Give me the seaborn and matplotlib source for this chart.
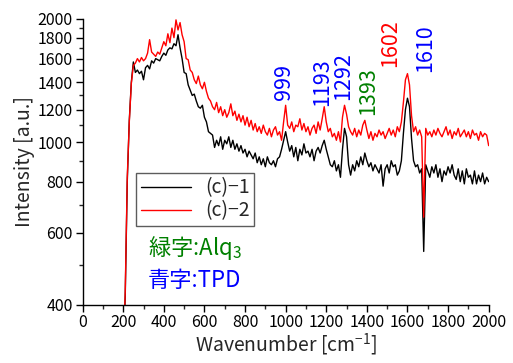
import matplotlib
matplotlib.use("Agg")
import matplotlib.pyplot as plt
import numpy as np
import pandas as pd
import seaborn as sns
from matplotlib.ticker import FixedLocator, NullFormatter, MultipleLocator

# Data
wavenumber = np.arange(200, 2001, 10)

c1 = [300, 420, 800, 1130, 1400, 1570, 1480, 1500, 1470, 1490,
      1420, 1520, 1540, 1510, 1580, 1560, 1600, 1590, 1580, 1620,
      1650, 1630, 1680, 1700, 1690, 1740, 1720, 1830, 1700, 1600,
      1480, 1470, 1380, 1340, 1300, 1310, 1260, 1220, 1210, 1230,
      1150, 1120, 1060, 1050, 1040, 970, 1010, 980, 1030, 960,
      1010, 990, 1030, 970, 1010, 960, 990, 950, 980, 940,
      960, 920, 950, 930, 910, 940, 890, 920, 880, 910,
      870, 920, 890, 880, 900, 870, 910, 920, 960, 1010,
      1060, 1000, 950, 980, 920, 970, 900, 960, 930, 990,
      940, 950, 920, 960, 900, 950, 970, 940, 980, 1010,
      960, 920, 880, 870, 900, 850, 880, 820, 960, 1080,
      1030, 880, 830, 880, 850, 900, 870, 920, 880, 940,
      900, 870, 890, 850, 880, 860, 840, 880, 780, 860,
      880, 840, 900, 870, 880, 830, 850, 900, 1050, 1200,
      1280, 1220, 1020, 900, 870, 880, 840, 860, 540, 880,
      850, 820, 870, 840, 880, 820, 860, 800, 850, 830,
      870, 840, 880, 830, 810, 860, 800, 850, 790, 860,
      820, 830, 790, 850, 790, 830, 800, 840, 790, 820,
      800]

c2 = [300, 430, 820, 1120, 1390, 1540, 1560, 1600, 1570, 1610,
      1580, 1600, 1650, 1780, 1660, 1640, 1620, 1660, 1640, 1700,
      1760, 1720, 1840, 1750, 1900, 1800, 1990, 1880, 1960, 1830,
      1760, 1600, 1590, 1500, 1480, 1420, 1390, 1450, 1380, 1350,
      1400, 1330, 1280, 1260, 1220, 1200, 1250, 1180, 1220, 1160,
      1200, 1150, 1180, 1240, 1160, 1190, 1130, 1170, 1120, 1160,
      1100, 1150, 1090, 1130, 1070, 1110, 1060, 1090, 1050, 1100,
      1060, 1040, 1080, 1030, 1070, 1090, 1040, 1060, 1010, 1120,
      1230, 1100, 1080, 1120, 1060, 1100, 1090, 1140, 1070, 1110,
      1060, 1090, 1040, 1080, 1100, 1050, 1120, 1070, 1140, 1220,
      1120, 1060, 1080, 1030, 1050, 1010, 1060, 1000, 1150, 1230,
      1170, 1090, 1060, 1040, 1080, 1030, 1070, 1040, 1100, 1130,
      1070, 1020, 1060, 1010, 1050, 1030, 1070, 1040, 1060, 1020,
      1050, 1080, 1040, 1070, 1030, 1090, 1060, 1120, 1250, 1420,
      1470, 1380, 1160, 1060, 1090, 1040, 1070, 1030, 655, 1080,
      1040, 1060, 1030, 1070, 1040, 1080, 1050, 1030, 1060, 1090,
      1040, 1070, 1020, 1060, 1040, 1080, 1030, 1050, 1070, 1030,
      1060, 1020, 1070, 1040, 1050, 1010, 1060, 1030, 1050, 1040,
      980]

series_names = ['(c)−1', '(c)−2']

peak_pos = [992, 1181, 1285, 1408, 1514, 1688]
peak_y = [1268, 1222, 1268, 1165, 1525, 1484]
peak_labels = ['999', '1193', '1292', '1393', '1602', '1610']
peak_colors = ['blue', 'blue', 'blue', 'green', 'red', 'blue']

sns.set_theme(style="ticks")
plt.rcParams['font.family'] = ['Noto Sans CJK JP', 'DejaVu Sans']
plt.rcParams['mathtext.fontset'] = 'custom'
plt.rcParams['mathtext.rm'] = 'Noto Sans CJK JP'
plt.rcParams['mathtext.it'] = 'Noto Sans CJK JP'

df = pd.DataFrame({'wn': np.concatenate([wavenumber, wavenumber]),
                   'I': c1 + c2,
                   's': [series_names[0]] * len(c1) + [series_names[1]] * len(c2)})

fig = plt.figure(figsize=(5.13, 3.63), dpi=100)
ax = fig.add_axes([0.161, 0.1606, 0.7916, 0.7871])

sns.lineplot(data=df, x='wn', y='I', hue='s', palette=['black', 'red'],
             linewidth=1.0, ax=ax)

ax.set_yscale('log')
ax.set_xlim(0, 2000)
ax.set_ylim(400, 2000)
yt = [400, 600, 800, 1000, 1200, 1400, 1600, 1800, 2000]
ax.yaxis.set_major_locator(FixedLocator(yt))
ax.set_yticklabels([str(v) for v in yt])
ax.yaxis.set_minor_locator(FixedLocator([500, 700, 900, 1100, 1300, 1500, 1700, 1900]))
ax.yaxis.set_minor_formatter(NullFormatter())
ax.xaxis.set_major_locator(MultipleLocator(200))
ax.xaxis.set_minor_locator(MultipleLocator(100))

ax.tick_params(which='major', direction='out', length=5, width=1,
               labelsize=11.5, colors='black', pad=2)
ax.tick_params(which='minor', direction='out', length=3, width=1)

for s in ['top', 'right']:
    ax.spines[s].set_visible(False)
for s in ['left', 'bottom']:
    ax.spines[s].set_color('black')
    ax.spines[s].set_linewidth(1)

ax.set_xlabel('Wavenumber [cm$^{-1}$]', fontsize=14, labelpad=0)
ax.set_ylabel('Intensity [a.u.]', fontsize=14, labelpad=2)

for xp, yp, lab, col in zip(peak_pos, peak_y, peak_labels, peak_colors):
    ax.text(xp, yp, lab, rotation=90, ha='center', va='bottom',
            color=col, fontsize=15.5)

leg = ax.legend(loc='upper left', bbox_to_anchor=(0.131, 0.462),
                borderaxespad=0, fontsize=14, frameon=True, fancybox=False,
                handlelength=2.6, handletextpad=0.7, borderpad=0.25,
                labelspacing=0.1, title=None)
leg.get_frame().set_edgecolor('#333333')
leg.get_frame().set_linewidth(1)
for line in leg.get_lines():
    line.set_linewidth(1.0)

ax.text(0.161, 0.198, '緑字:Alq$_3$', color='green', fontsize=16,
        transform=ax.transAxes, ha='left', va='center')
ax.text(0.161, 0.086, '青字:TPD', color='blue', fontsize=16,
        transform=ax.transAxes, ha='left', va='center')

fig.savefig('out.png', dpi=100)
